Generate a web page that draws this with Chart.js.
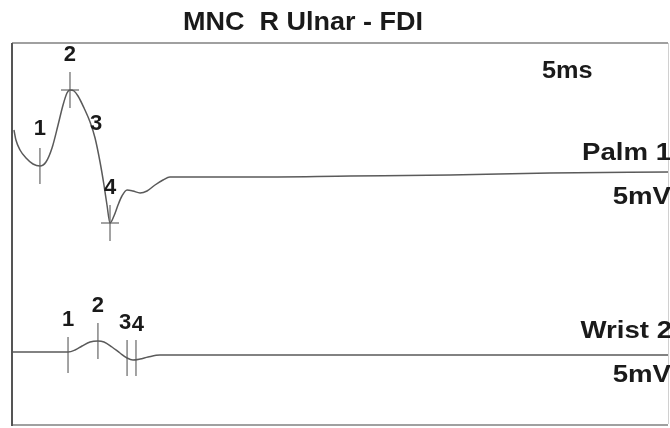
<!DOCTYPE html>
<html>
<head>
<meta charset="utf-8">
<script src="https://cdn.jsdelivr.net/npm/chart.js"></script>
<style>
  html, body { margin: 0; padding: 0; background: #fff; }
  #wrap { width: 670px; height: 428px; }
</style>
</head>
<body>
<div id="wrap"><canvas id="ncs"></canvas></div>
<script>
// traces: time in ms, amplitude in mV relative to each trace's baseline
const palmTime = [0.15, 0.3, 0.61, 1.07, 1.6, 2.13, 2.59, 3.05, 3.51, 3.89, 4.19, 4.42, 4.73, 5.03, 5.49, 5.95, 6.33, 6.71, 7.01, 7.24, 7.47, 7.77, 8.08, 8.38, 8.77, 9.22, 9.76, 10.29, 10.9, 11.51, 12.04, 18.1, 25.8, 33.4, 41.0, 50]
const palmAmp = [4.4, 3.4, 2.4, 1.6, 1.0, 0.8, 1.2, 2.6, 4.9, 6.9, 8.1, 8.4, 8.3, 7.8, 6.6, 5.2, 3.6, 1.2, -1.1, -3.1, -4.9, -4.2, -3.1, -2.2, -1.6, -1.7, -1.9, -1.7, -1.1, -0.6, -0.3, -0.3, -0.2, -0.1, 0.1, 0.2]

const wristTime = [0, 2.13, 4.27, 4.8, 5.34, 5.95, 6.55, 7.01, 7.62, 8.23, 8.77, 9.22, 9.76, 10.37, 11.28, 18.1, 29.6, 50]
const wristAmp = [0.2, 0.2, 0.2, 0.4, 0.8, 1.2, 1.3, 1.2, 0.7, 0.1, -0.4, -0.6, -0.5, -0.3, -0.1, -0.1, -0.1, -0.1]

// cursor markers
const palmMarkLabels = ['1', '2', '3', '4']
const palmMarkTime = [2.13, 4.42, 6.1, 7.47]
const palmMarkAmp = [0.8, 8.4, 4.6, -4.9]
const palmMarkTick = [true, true, false, true]
const palmMarkCross = [false, true, false, true]

const wristMarkLabels = ['1', '2', '3', '4']
const wristMarkTime = [4.27, 6.55, 8.77, 9.45]
const wristMarkAmp = [-0.1, 1.3, -0.4, -0.4]

const title = 'MNC  R Ulnar - FDI'
const sweepLabel = '5ms'
const traceNames = ['Palm 1', 'Wrist 2']
const gainLabels = ['5mV', '5mV']

const palmOffset = 18
const wristOffset = 0

function pts(t, a, off) {
  return t.map((x, i) => ({x: x, y: a[i] + off}))
}

const palmPts = pts(palmTime, palmAmp, palmOffset)
const wristPts = pts(wristTime, wristAmp, wristOffset)
const palmTicks = pts(palmMarkTime, palmMarkAmp, palmOffset).filter((p, i) => palmMarkTick[i])
const palmCross = pts(palmMarkTime, palmMarkAmp, palmOffset).filter((p, i) => palmMarkCross[i])
const wristTicks = pts(wristMarkTime, wristMarkAmp, wristOffset)

const FONT = 'Arial, "Liberation Sans", sans-serif'
const INK = '#1a1a1a'
const TRACE = '#5a5a5a'

// text a bit wider than the font, like the original printout
function wideText(ctx, txt, x, y, sx) {
  ctx.save()
  ctx.translate(x, y)
  ctx.scale(sx, 1)
  ctx.fillText(txt, 0, 0)
  ctx.restore()
}

// frame, title, labels
const decor = {
  id: 'decor',
  afterDraw(chart) {
    const {ctx, chartArea: ca, scales} = chart
    const xs = scales.x, ys = scales.y
    ctx.save()
    // frame
    ctx.fillStyle = '#a0a0a0'
    ctx.fillRect(ca.left, ca.top - 1, ca.right - ca.left, 2)
    ctx.fillRect(ca.left, ca.bottom, ca.right - ca.left, 2)
    ctx.fillStyle = '#d0d0d0'
    ctx.fillRect(ca.right, ca.top, 1, ca.bottom - ca.top)
    ctx.fillStyle = '#555'
    ctx.fillRect(ca.left - 1, ca.top, 2, ca.bottom - ca.top + 2)

    ctx.fillStyle = INK
    ctx.textBaseline = 'middle'
    ctx.font = 'bold 25px ' + FONT
    ctx.textAlign = 'center'
    wideText(ctx, title, 303, 23, 1.08)

    ctx.font = 'bold 23px ' + FONT
    ctx.textAlign = 'left'
    wideText(ctx, sweepLabel, 542, 72, 1.1)

    ctx.font = 'bold 24px ' + FONT
    ctx.textAlign = 'right'
    wideText(ctx, traceNames[0], 671, 153, 1.15)
    wideText(ctx, gainLabels[0], 671, 197, 1.15)
    wideText(ctx, traceNames[1], 672, 331, 1.15)
    wideText(ctx, gainLabels[1], 671, 375, 1.15)

    // marker numbers
    ctx.font = 'bold 22px ' + FONT
    ctx.textAlign = 'center'
    palmMarkLabels.forEach((lab, i) => {
      const px = xs.getPixelForValue(palmMarkTime[i])
      const py = ys.getPixelForValue(palmMarkAmp[i] + palmOffset)
      if (palmMarkTick[i]) ctx.fillText(lab, px, py - 35 + (i == 0 ? -2 : 0))
      else ctx.fillText(lab, px + 4, py - 4)
    })
    wristMarkLabels.forEach((lab, i) => {
      const px = xs.getPixelForValue(wristMarkTime[i])
      const py = ys.getPixelForValue(wristMarkAmp[i] + wristOffset)
      let dx = 0
      if (i == 2) dx = -2
      if (i == 3) dx = 2
      ctx.fillText(lab, px + dx, py - 35 + (i == 3 ? 2 : 0))
    })
    ctx.restore()
  }
}

new Chart(document.getElementById('ncs'), {
  type: 'scatter',
  data: {
    datasets: [
      {data: palmPts, showLine: true, borderColor: TRACE, borderWidth: 1.5, pointRadius: 0, cubicInterpolationMode: 'monotone'},
      {data: wristPts, showLine: true, borderColor: TRACE, borderWidth: 1.5, pointRadius: 0, cubicInterpolationMode: 'monotone'},
      {data: palmTicks, pointStyle: 'line', rotation: 90, radius: 18, borderColor: '#666', borderWidth: 1.2},
      {data: palmCross, pointStyle: 'line', radius: 9, borderColor: '#666', borderWidth: 1.2},
      {data: wristTicks, pointStyle: 'line', rotation: 90, radius: 18, borderColor: '#666', borderWidth: 1.2}
    ]
  },
  options: {
    responsive: true,
    maintainAspectRatio: false,
    animation: false,
    layout: {autoPadding: false, padding: {left: 12, right: 2, top: 43, bottom: 4}},
    plugins: {legend: {display: false}, tooltip: {enabled: false}},
    scales: {
      x: {type: 'linear', min: 0, max: 50, display: false},
      y: {type: 'linear', min: -7, max: 31.1, display: false}
    }
  },
  plugins: [decor]
})
</script>
</body>
</html>
